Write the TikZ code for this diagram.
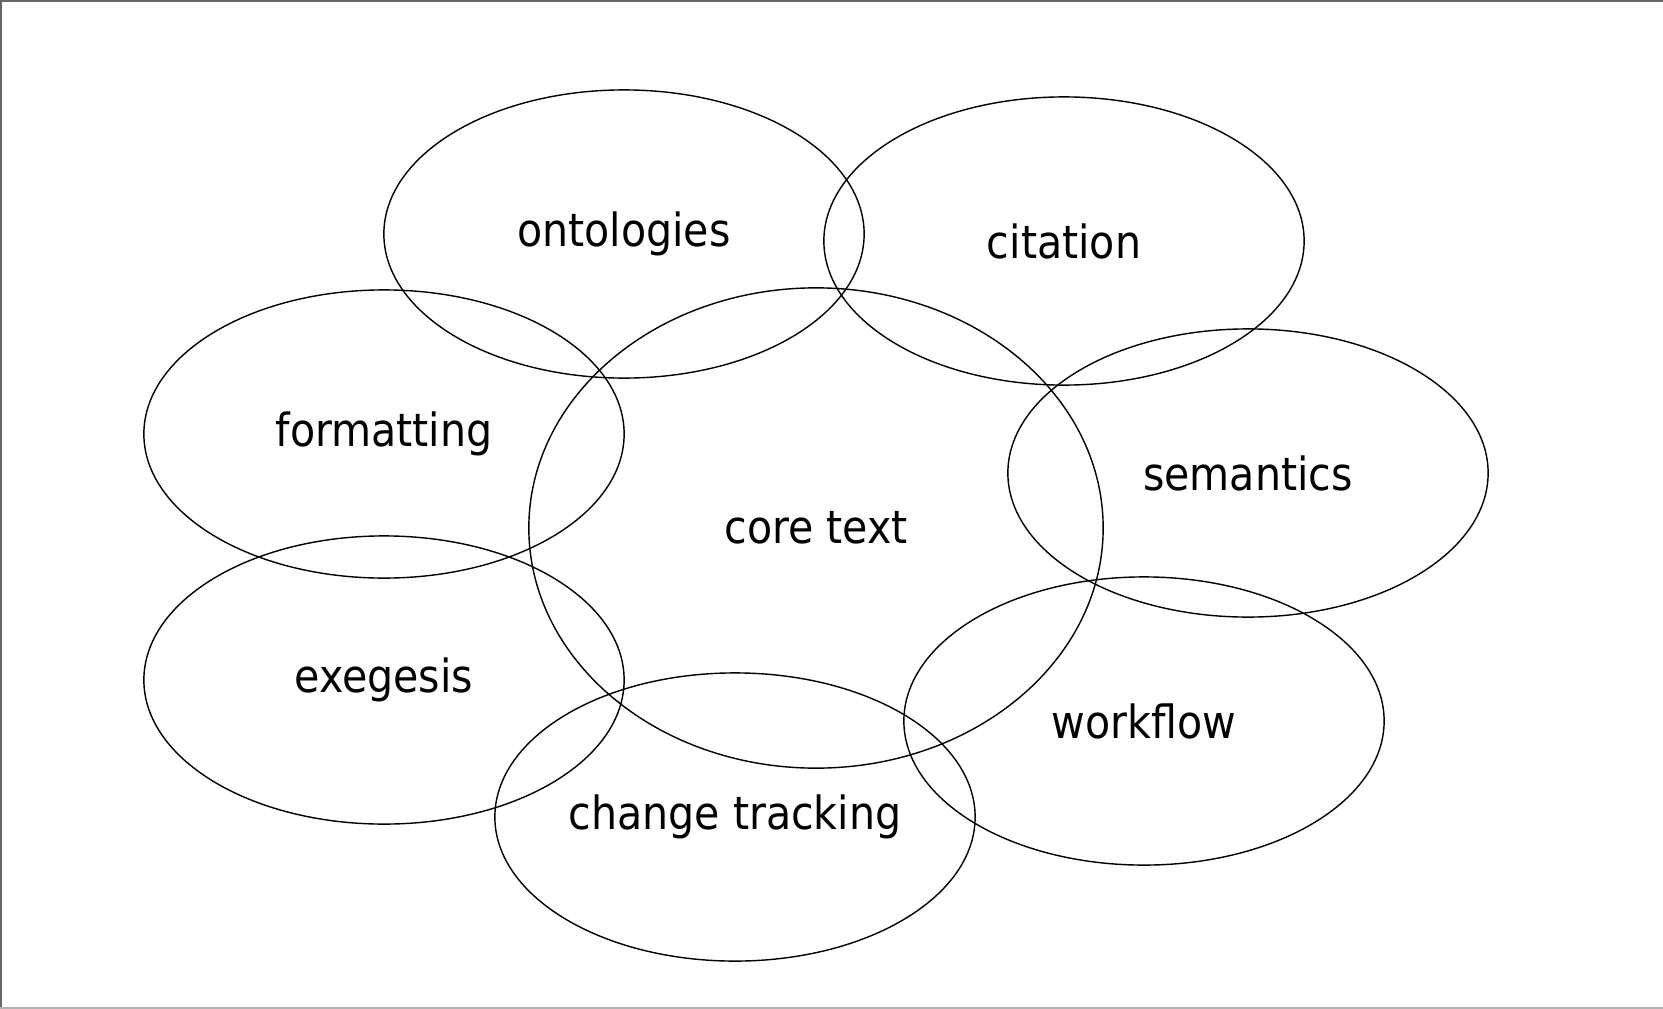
\documentclass[tikz,border=0pt]{standalone}
\usepackage{fontspec}
\setmainfont{DejaVu Sans Condensed}
\usetikzlibrary{shapes.geometric}

\begin{document}
\begin{tikzpicture}
   [x=0.01cm,y=-0.01cm,every node/.style={inner sep=0pt,font=\fontsize{13}{15}\selectfont},
    topic/.style={ellipse,draw,line width=0.4pt,minimum width=4.8cm,minimum height=2.88cm},
    core/.style={topic,minimum width=5.74cm,minimum height=4.8cm}]

\useasboundingbox (0,0) rectangle (1663,1009);
% Frame (no right edge)
\draw[gray!80!black,line width=0.5pt] (1663,1.2) -- (0.8,1.2) -- (0.8,1009);
\draw[gray!60,line width=0.5pt] (0,1008) -- (1663,1008);

%%%%%%%%%%%%%%%%%%%%%%%%%%%%%%%%%%%%%%%%%%%%%%%%%%%%%%%%%%%%%%%
% Centre
%%%%%%%%%%%%%%%%%%%%%%%%%%%%%%%%%%%%%%%%%%%%%%%%%%%%%%%%%%%%%%%
\node[core] (coretext) at (816,528) {core text};

%%%%%%%%%%%%%%%%%%%%%%%%%%%%%%%%%%%%%%%%%%%%%%%%%%%%%%%%%%%%%%%
% Surrounding topics
%%%%%%%%%%%%%%%%%%%%%%%%%%%%%%%%%%%%%%%%%%%%%%%%%%%%%%%%%%%%%%%
\node[topic] (onto) at (624,234) {ontologies};
\node[topic] (cite) at (1064,241) {citation};
\node[topic] (format) at (384,434) {formatting};
\node[topic] (sem) at (1248,473) {semantics};
\node[topic] (exeg) at (384,680) {exegesis};
\node[topic] (change) at (735,817) {change tracking};
\node[topic] (work) at (1144,721) {workflow};

\end{tikzpicture}
\end{document}
